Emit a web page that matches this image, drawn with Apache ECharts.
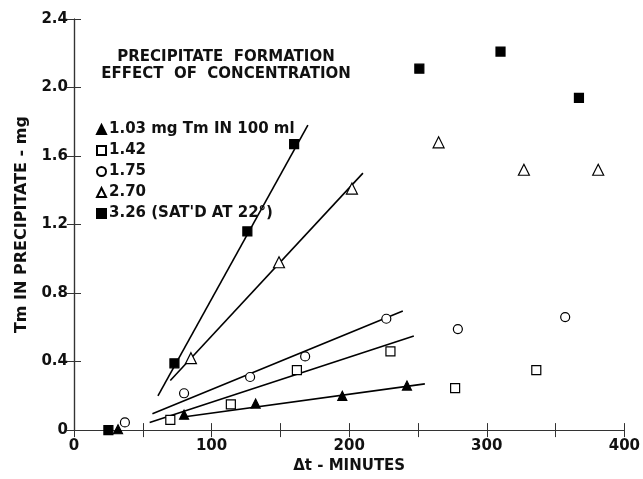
<!DOCTYPE html>
<html>
<head>
<meta charset="utf-8">
<script src="https://cdn.jsdelivr.net/npm/echarts@6/dist/echarts.min.js"></script>
<style>
html, body { margin: 0; padding: 0; background: #fff; }
#main { width: 643px; height: 479px; }
</style>
</head>
<body>
<div id="main"></div>
<script>
// 数据 (Δt 分钟, Tm mg)
var names = ['1.03 mg Tm IN 100 ml', '1.42', '1.75', '2.70', "3.26 (SAT'D AT 22°)"];
var s103 = [[32, 0.005], [80, 0.09], [132, 0.155], [195, 0.2], [242, 0.26]];
var s142 = [[70, 0.06], [114, 0.15], [162, 0.35], [230, 0.46], [277, 0.245], [336, 0.35]];
var s175 = [[37, 0.045], [80, 0.215], [128, 0.31], [168, 0.43], [227, 0.65], [279, 0.59], [357, 0.66]];
var s270 = [[85, 0.42], [149, 0.98], [202, 1.41], [265, 1.68], [327, 1.52], [381, 1.52]];
var s326 = [[25, 0], [73, 0.39], [126, 1.16], [160, 1.67], [251, 2.11], [310, 2.21], [367, 1.94]];

// 拟合直线 (两端点)
var fit103 = [[78, 0.075], [255, 0.27]];
var fit142 = [[55, 0.045], [247, 0.55]];
var fit175 = [[57, 0.095], [239, 0.695]];
var fit270 = [[70, 0.29], [210, 1.5]];
var fit326 = [[61, 0.2], [170, 1.78]];

var font = 'DejaVu Sans';
var myChart = echarts.init(document.getElementById('main'));

function pts(name, data, symbol, filled, size) {
    return {
        name: name,
        type: 'scatter',
        data: data,
        symbol: symbol,
        symbolSize: size,
        z: 5,
        itemStyle: {
            color: filled ? '#000' : '#fff',
            borderColor: '#000',
            borderWidth: 1.2,
            opacity: 1
        }
    };
}
function fit(data) {
    return {
        type: 'line',
        data: data,
        symbol: 'none',
        silent: true,
        z: 3,
        lineStyle: { color: '#000', width: 1.6 }
    };
}

var tickStyle = { show: true, inside: true, length: 7, lineStyle: { color: '#333', width: 1 } };
var lineStyle = { show: true, lineStyle: { color: '#333', width: 1.2 } };

var option = {
    backgroundColor: '#fff',
    animation: false,
    title: {
        text: 'PRECIPITATE  FORMATION\nEFFECT  OF  CONCENTRATION',
        left: 221,
        top: 44,
        textAlign: 'center',
        textStyle: { fontFamily: font, fontSize: 15, fontWeight: 'bold', color: '#111', lineHeight: 17 }
    },
    legend: {
        data: names,
        orient: 'vertical',
        left: 91,
        top: 117,
        itemGap: 6,
        itemWidth: 9,
        itemHeight: 9,
        textStyle: { fontFamily: font, fontSize: 15, fontWeight: 'bold', color: '#111', padding: [0, 0, 0, -2] }
    },
    grid: { left: 74, right: 16, top: 19, bottom: 46 },
    xAxis: [{
        type: 'value',
        min: 0, max: 400, interval: 50,
        name: 'Δt - MINUTES',
        nameLocation: 'middle',
        nameGap: 28,
        nameTextStyle: { fontFamily: font, fontSize: 15, fontWeight: 'bold', color: '#111' },
        axisLine: lineStyle,
        axisTick: tickStyle,
        splitLine: { show: false },
        axisLabel: {
            fontFamily: font, fontSize: 15, fontWeight: 'bold', color: '#111', margin: 9,
            formatter: function (v) { return v % 100 === 0 ? v : ''; }
        }
    }, {
        type: 'value', position: 'top',
        min: 0, max: 400, interval: 50,
        axisLine: lineStyle, axisTick: tickStyle,
        axisLabel: { show: false }, splitLine: { show: false }
    }],
    yAxis: [{
        type: 'value',
        min: 0, max: 2.4, interval: 0.4,
        name: 'Tm IN PRECIPITATE - mg',
        nameLocation: 'middle',
        nameGap: 44,
        nameTextStyle: { fontFamily: font, fontSize: 16, fontWeight: 'bold', color: '#111' },
        axisLine: lineStyle,
        axisTick: tickStyle,
        splitLine: { show: false },
        axisLabel: {
            fontFamily: font, fontSize: 15, fontWeight: 'bold', color: '#111', margin: 6,
            formatter: function (v) { return v === 0 ? '0' : v.toFixed(1); }
        }
    }, {
        type: 'value', position: 'right',
        min: 0, max: 2.4, interval: 0.4,
        axisLine: lineStyle, axisTick: tickStyle,
        axisLabel: { show: false }, splitLine: { show: false }
    }],
    series: [
        fit(fit103), fit(fit142), fit(fit175), fit(fit270), fit(fit326),
        pts(names[0], s103, 'triangle', true, 9),
        pts(names[1], s142, 'rect', false, 9),
        pts(names[2], s175, 'circle', false, 9),
        pts(names[3], s270, 'triangle', false, 11),
        pts(names[4], s326, 'rect', true, 9)
    ]
};

myChart.setOption(option);
</script>
</body>
</html>
